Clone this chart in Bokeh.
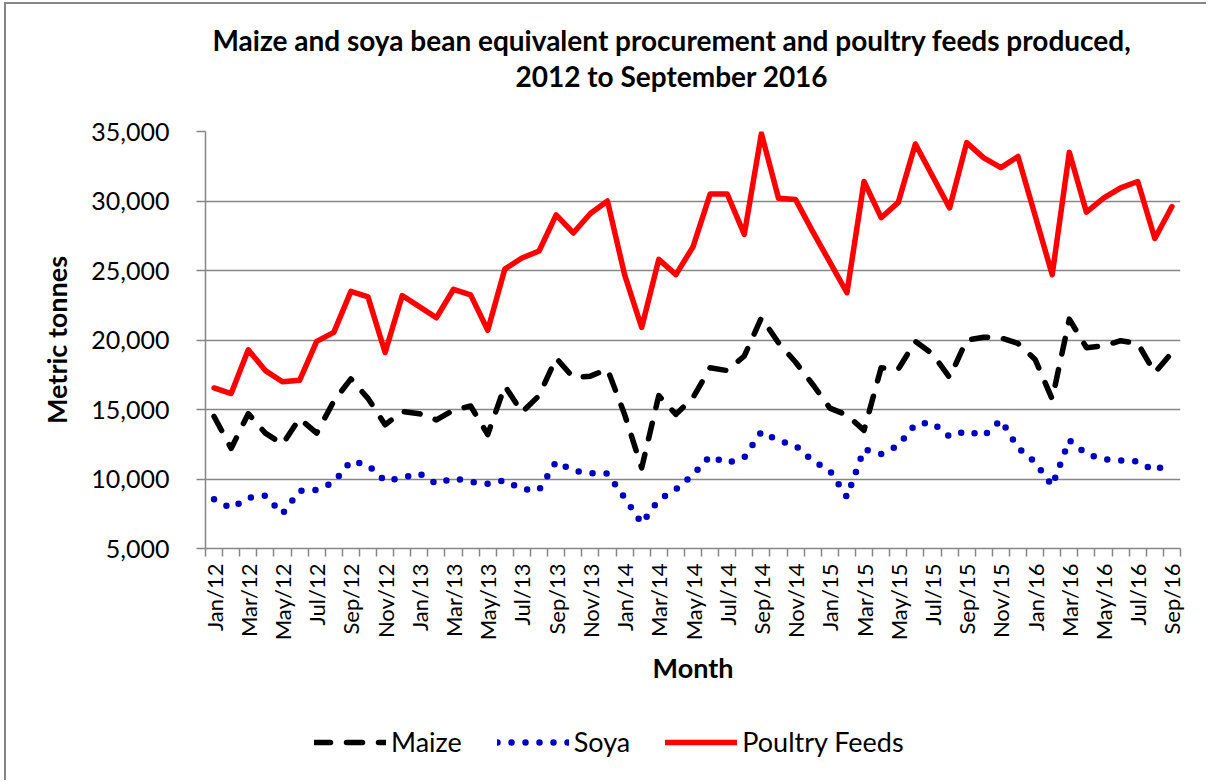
import numpy as np
from bokeh.plotting import figure
from bokeh.layouts import column
from bokeh.models import Range1d, FixedTicker, Legend, LegendItem, NumeralTickFormatter, Title
from bokeh.embed import file_html
from bokeh.resources import INLINE

# ---------------- data ----------------
month_names = ["Jan", "Feb", "Mar", "Apr", "May", "Jun", "Jul", "Aug", "Sep", "Oct", "Nov", "Dec"]
years = ["12", "13", "14", "15", "16"]
months = [f"{m}/{y}" for y in years for m in month_names][:57]  # Jan/12 .. Sep/16

maize = [14500, 12200, 14700, 13300, 12500, 14350, 13300, 15600, 17200, 15800,
         13900, 14850, 14700, 14250, 14950, 15250, 13200, 16700, 14800, 16000,
         18700, 17300, 17400, 17900, 14650, 10800, 16000, 14650, 15850, 18000,
         17800, 18850, 21600, 19800, 18400, 16800, 15100, 14600, 13500, 18000,
         17900, 19900, 19000, 17300, 20000, 20200, 20150, 19750, 18600, 15750,
         21500, 19450, 19570, 19950, 19750, 17650, 19100]

soya = [8550, 7900, 8650, 8800, 7500, 9150, 9220, 9750, 11300, 11000,
        9850, 10100, 10400, 9650, 10050, 9800, 9650, 9900, 9270, 9200,
        11250, 10600, 10420, 10400, 8650, 6800, 8500, 9250, 10300, 11650,
        11140, 11550, 13400, 12750, 12400, 11300, 10600, 8700, 12150, 11800,
        12400, 13950, 14050, 13050, 13470, 13100, 14250, 12250, 11200, 9500,
        12800, 11800, 11430, 11330, 11260, 10590, 11300]

poultry = [16550, 16150, 19300, 17800, 17000, 17100, 19900, 20550, 23500, 23100,
           19100, 23200, 22400, 21600, 23650, 23250, 20700, 25100, 25900, 26400,
           29000, 27700, 29100, 30000, 24700, 20900, 25800, 24700, 26700, 30500,
           30500, 27600, 34850, 30200, 30100, 27800, 25600, 23400, 31400, 28800,
           29900, 34100, 31800, 29500, 34200, 33100, 32400, 33200, 28950, 24700,
           33500, 29200, 30200, 30950, 31400, 27300, 29600]

series_names = ["Maize", "Soya", "Poultry Feeds"]
y_ticks = [5000, 10000, 15000, 20000, 25000, 30000, 35000]
title_lines = ["Maize and soya bean equivalent procurement and poultry feeds produced,",
               "2012 to September 2016"]

x = list(range(len(months)))

# ---------------- styles ----------------
FONT = "Lato"
GRAY = "#868686"
STY_MAIZE = dict(line_color="black", line_width=5.5, line_dash="16 16", line_cap="round", line_join="round")
STY_SOYA = dict(line_color="#0000C0", line_width=6.5, line_dash="0 14", line_cap="round", line_join="round")
STY_POULTRY = dict(line_color="#FF0000", line_width=5.5, line_cap="round", line_join="round")

L, T, FW, FH = 199, 127, 975, 417
W, H1, H2 = 1200, 714, 62

p = figure(width=W, height=H1,
           x_range=Range1d(-0.5, len(months) - 0.5),
           y_range=Range1d(5000, 35000),
           output_backend="svg", toolbar_location=None,
           min_border_left=L, min_border_top=T,
           min_border_right=W - L - FW, min_border_bottom=H1 - T - FH)
p.outline_line_color = None
p.background_fill_color = "white"
p.border_fill_color = "white"

# title: spacer (closest to plot), second line, then first line (outermost)
p.add_layout(Title(text=" ", text_font_size="1px", standoff=34), "above")
p.add_layout(Title(text=title_lines[1], align="left", offset=310, vertical_align="top",
                   standoff=0, text_font=FONT, text_font_style="bold",
                   text_font_size="28px", text_color="black"), "above")
p.title.text = title_lines[0]
p.title.align = "left"
p.title.offset = 7
p.title.vertical_align = "top"
p.title.standoff = 0
p.title.text_font = FONT
p.title.text_font_style = "bold"
p.title.text_font_size = "28px"
p.title.text_color = "black"

# y axis
p.yaxis.ticker = FixedTicker(ticks=y_ticks, minor_ticks=[])
p.yaxis.formatter = NumeralTickFormatter(format="0,0")
p.yaxis.major_tick_out = 9
p.yaxis.major_tick_in = 0
p.yaxis.minor_tick_line_color = None
p.yaxis.axis_line_color = GRAY
p.yaxis.axis_line_width = 1.5
p.yaxis.major_tick_line_color = GRAY
p.yaxis.major_tick_line_width = 1.5
p.yaxis.major_label_text_font = FONT
p.yaxis.major_label_text_font_size = "25px"
p.yaxis.major_label_text_color = "black"
p.yaxis.major_label_standoff = 27
p.yaxis.axis_label = "Metric tonnes"
p.yaxis.axis_label_text_font = FONT
p.yaxis.axis_label_text_font_style = "bold"
p.yaxis.axis_label_text_font_size = "27px"
p.yaxis.axis_label_text_color = "black"
p.yaxis.axis_label_standoff = 15

# x axis: labels at every other month, ticks between months
p.xaxis.ticker = FixedTicker(ticks=x[::2], minor_ticks=[i - 0.5 for i in range(len(months) + 1)])
p.xaxis.major_label_overrides = {i: months[i] for i in x[::2]}
p.xaxis.major_label_orientation = np.pi / 2
p.xaxis.major_tick_line_color = None
p.xaxis.major_tick_out = 0
p.xaxis.major_tick_in = 0
p.xaxis.minor_tick_out = 8
p.xaxis.minor_tick_in = 0
p.xaxis.minor_tick_line_color = GRAY
p.xaxis.minor_tick_line_width = 1.5
p.xaxis.axis_line_color = GRAY
p.xaxis.axis_line_width = 1.5
p.xaxis.major_label_text_font = FONT
p.xaxis.major_label_text_font_size = "22px"
p.xaxis.major_label_text_color = "black"
p.xaxis.major_label_standoff = 7
p.xaxis.axis_label = "Month"
p.xaxis.axis_label_text_font = FONT
p.xaxis.axis_label_text_font_style = "bold"
p.xaxis.axis_label_text_font_size = "27px"
p.xaxis.axis_label_text_color = "black"
p.xaxis.axis_label_standoff = 8

p.xgrid.grid_line_color = None
p.ygrid.ticker = FixedTicker(ticks=y_ticks)
p.ygrid.grid_line_color = GRAY
p.ygrid.grid_line_width = 1.5

# series
p.line(x, maize, **STY_MAIZE)
p.line(x, soya, **STY_SOYA)
p.line(x, poultry, **STY_POULTRY)

# ---------------- legend strip below the chart ----------------
# The strip's ranges lie outside the data, so its renderers only supply legend swatches.
leg = figure(width=W, height=H2, x_range=Range1d(-1000, -999), y_range=Range1d(-1000, -999),
             x_axis_type=None, y_axis_type=None,
             output_backend="svg", toolbar_location=None,
             min_border_left=0, min_border_right=0, min_border_top=0, min_border_bottom=0)
leg.outline_line_color = None
leg.grid.visible = False
leg.background_fill_color = "white"
leg.border_fill_color = "white"
lr_maize = leg.line(x, maize, **STY_MAIZE)
lr_soya = leg.line(x, soya, **STY_SOYA)
lr_poultry = leg.line(x, poultry, **STY_POULTRY)

legend = Legend(items=[LegendItem(label=series_names[0], renderers=[lr_maize]),
                       LegendItem(label=series_names[1], renderers=[lr_soya]),
                       LegendItem(label=series_names[2], renderers=[lr_poultry])],
                orientation="horizontal", location=(109, 22),
                padding=0, margin=0, border_line_color=None, background_fill_alpha=0,
                glyph_width=72, glyph_height=20, label_height=20, label_standoff=5, spacing=35,
                label_text_font=FONT, label_text_font_size="27px", label_text_color="black")
leg.add_layout(legend)

page = column(p, leg, spacing=0,
              stylesheets=[f":host {{ margin-left: 4px; margin-top: 2px; "
                           f"border-left: 2px solid {GRAY}; border-top: 2px solid {GRAY}; }}"])

open("out.html", "w").write(file_html(page, INLINE))
